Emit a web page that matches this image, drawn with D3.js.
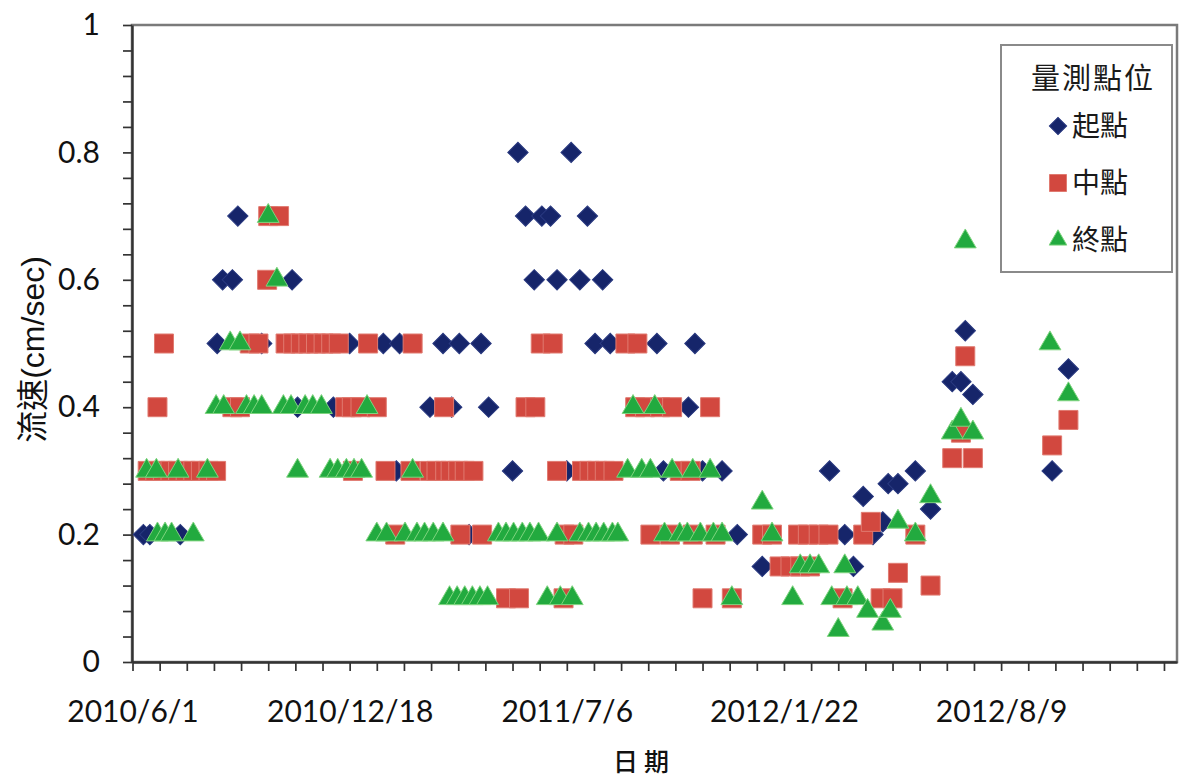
<!DOCTYPE html>
<html><head><meta charset="utf-8">
<script src="https://cdn.jsdelivr.net/npm/d3@7"></script>
<style>
html,body{margin:0;padding:0;background:#fff;}
svg{display:block;}
</style></head><body>
<svg id="chart" width="1183" height="779"></svg>
<script>
// ---- data ----
const seriesNames = ["起點", "中點", "終點"];
const legendTitle = "量測點位";
const xTitle = "日期";
const yTitle = "流速(cm/sec)";
const xLabelDates = ["2010-06-01", "2010-12-18", "2011-07-06", "2012-01-22", "2012-08-09"];
const yTickLabels = ["0", "0.2", "0.4", "0.6", "0.8", "1"];

const startDates = ["2010-06-11","2010-06-17","2010-07-15","2010-08-18","2010-08-23","2010-09-01","2010-09-06","2010-09-28","2010-10-26","2010-10-31","2010-12-03","2010-12-18","2011-01-18","2011-01-30","2011-02-02","2011-03-02","2011-03-14","2011-03-22","2011-03-29","2011-04-07","2011-04-18","2011-04-25","2011-05-17","2011-05-22","2011-05-29","2011-06-06","2011-06-13","2011-06-21","2011-06-27","2011-07-06","2011-07-10","2011-07-18","2011-07-25","2011-08-01","2011-08-08","2011-08-15","2011-09-27","2011-10-03","2011-10-26","2011-11-01","2011-11-08","2011-11-26","2011-12-10","2012-01-02","2012-03-04","2012-03-18","2012-03-26","2012-04-04","2012-04-13","2012-04-22","2012-04-27","2012-05-06","2012-05-22","2012-06-05","2012-06-25","2012-07-03","2012-07-07","2012-07-14","2012-09-25","2012-10-10"];
const startValues = [0.2,0.2,0.2,0.5,0.6,0.6,0.7,0.5,0.6,0.4,0.4,0.5,0.5,0.3,0.5,0.4,0.5,0.4,0.5,0.2,0.5,0.4,0.3,0.8,0.7,0.6,0.7,0.7,0.6,0.3,0.8,0.6,0.7,0.5,0.6,0.5,0.5,0.3,0.4,0.5,0.3,0.3,0.2,0.15,0.3,0.2,0.15,0.26,0.2,0.22,0.28,0.28,0.3,0.24,0.44,0.44,0.52,0.42,0.3,0.46];

const midDates = ["2010-06-15","2010-06-22","2010-06-24","2010-06-29","2010-06-30","2010-07-06","2010-07-13","2010-07-20","2010-07-27","2010-08-03","2010-08-10","2010-08-17","2010-09-01","2010-09-08","2010-09-17","2010-09-25","2010-10-03","2010-10-04","2010-10-14","2010-10-20","2010-10-27","2010-11-03","2010-11-10","2010-11-17","2010-11-24","2010-12-01","2010-12-08","2010-12-14","2010-12-20","2010-12-21","2010-12-28","2011-01-04","2011-01-12","2011-01-20","2011-01-29","2011-02-12","2011-02-14","2011-03-02","2011-03-08","2011-03-15","2011-03-16","2011-03-21","2011-03-28","2011-03-30","2011-04-03","2011-04-11","2011-04-19","2011-05-11","2011-05-23","2011-05-29","2011-06-07","2011-06-12","2011-06-23","2011-06-27","2011-07-03","2011-07-04","2011-07-12","2011-07-20","2011-07-27","2011-08-03","2011-08-10","2011-08-18","2011-08-29","2011-09-07","2011-09-09","2011-09-16","2011-09-21","2011-09-30","2011-10-09","2011-10-11","2011-10-18","2011-10-28","2011-10-30","2011-11-08","2011-11-15","2011-11-20","2011-12-05","2012-01-02","2012-01-11","2012-01-18","2012-01-28","2012-02-04","2012-02-06","2012-02-13","2012-02-15","2012-02-23","2012-03-03","2012-03-16","2012-04-04","2012-04-11","2012-04-20","2012-05-01","2012-05-06","2012-05-22","2012-06-05","2012-06-25","2012-07-03","2012-07-07","2012-07-14","2012-09-25","2012-10-10"];
const midValues = [0.3,0.3,0.4,0.3,0.5,0.3,0.3,0.3,0.3,0.3,0.3,0.3,0.4,0.4,0.5,0.5,0.6,0.7,0.7,0.5,0.5,0.5,0.5,0.5,0.5,0.5,0.5,0.4,0.4,0.3,0.4,0.5,0.4,0.3,0.2,0.3,0.5,0.3,0.3,0.4,0.3,0.3,0.3,0.2,0.3,0.3,0.2,0.1,0.1,0.4,0.4,0.5,0.5,0.3,0.1,0.2,0.2,0.3,0.3,0.3,0.3,0.3,0.5,0.4,0.5,0.4,0.2,0.4,0.2,0.4,0.3,0.3,0.2,0.1,0.4,0.2,0.1,0.2,0.2,0.15,0.15,0.2,0.15,0.2,0.15,0.2,0.2,0.1,0.2,0.22,0.1,0.1,0.14,0.2,0.12,0.32,0.36,0.48,0.32,0.34,0.38];

const endDates = ["2010-06-14","2010-06-23","2010-06-24","2010-07-01","2010-07-07","2010-07-13","2010-07-27","2010-08-09","2010-08-17","2010-08-24","2010-08-30","2010-09-08","2010-09-14","2010-09-21","2010-09-28","2010-10-04","2010-10-12","2010-10-18","2010-10-25","2010-10-31","2010-11-07","2010-11-14","2010-11-22","2010-11-30","2010-12-07","2010-12-15","2010-12-22","2010-12-29","2011-01-03","2011-01-12","2011-01-21","2011-02-07","2011-02-14","2011-02-18","2011-02-25","2011-03-05","2011-03-14","2011-03-20","2011-03-27","2011-04-03","2011-04-10","2011-04-17","2011-04-24","2011-05-04","2011-05-11","2011-05-18","2011-05-26","2011-06-02","2011-06-10","2011-06-18","2011-06-27","2011-06-30","2011-07-11","2011-07-18","2011-07-26","2011-08-02","2011-08-09","2011-08-17","2011-08-22","2011-08-31","2011-09-05","2011-09-13","2011-09-21","2011-09-25","2011-10-04","2011-10-11","2011-10-18","2011-10-25","2011-10-30","2011-11-06","2011-11-15","2011-11-18","2011-11-26","2011-12-05","2012-01-02","2012-01-11","2012-01-30","2012-02-06","2012-02-15","2012-02-23","2012-03-06","2012-03-12","2012-03-18","2012-03-20","2012-03-30","2012-04-08","2012-04-22","2012-04-29","2012-05-06","2012-05-22","2012-06-05","2012-06-25","2012-07-03","2012-07-07","2012-07-14","2012-09-23","2012-10-10"];
const endValues = [0.3,0.3,0.2,0.2,0.2,0.3,0.2,0.3,0.4,0.4,0.5,0.5,0.4,0.4,0.4,0.7,0.6,0.4,0.4,0.3,0.4,0.4,0.4,0.3,0.3,0.3,0.3,0.3,0.4,0.2,0.2,0.2,0.3,0.2,0.2,0.2,0.2,0.1,0.1,0.1,0.1,0.1,0.1,0.2,0.2,0.2,0.2,0.2,0.2,0.1,0.2,0.1,0.1,0.2,0.2,0.2,0.2,0.2,0.2,0.3,0.4,0.3,0.3,0.4,0.2,0.3,0.2,0.2,0.3,0.2,0.3,0.2,0.2,0.1,0.25,0.2,0.1,0.15,0.15,0.15,0.1,0.05,0.15,0.1,0.1,0.08,0.06,0.08,0.22,0.2,0.26,0.36,0.38,0.66,0.36,0.5,0.42];

// ---- layout ----
const W = 1183, H = 779;
const M = {left: 132, right: 1177, top: 25, bottom: 662};
const parse = d3.timeParse("%Y-%m-%d");
const xStart = parse("2010-06-01");
const xEnd = parse("2013-01-18");

const svg = d3.select("#chart");
svg.append("rect").attr("width", W).attr("height", H).attr("fill", "#fff");

const x = d3.scaleTime().domain([xStart, xEnd]).range([M.left + 0.5, M.right]);
const y = d3.scaleLinear().domain([0, 1]).range([M.bottom, M.top]);

// plot frame
svg.append("rect")
  .attr("x", M.left).attr("y", M.top)
  .attr("width", M.right - M.left).attr("height", M.bottom - M.top)
  .attr("fill", "none").attr("stroke", "#7a7a7a").attr("stroke-width", 2.5);

const tickFont = "Lato, 'Open Sans', sans-serif";

// x axis
const minorDays = d3.range(0, 951, 25);
const labelSet = new Set(xLabelDates.map(s => +parse(s)));
const xTicks = minorDays.map(d => d3.timeDay.offset(xStart, d));
const fmtDate = d => `${d.getFullYear()}/${d.getMonth() + 1}/${d.getDate()}`;
const xAxis = d3.axisBottom(x).tickValues(xTicks)
  .tickSizeInner(9).tickSizeOuter(0).tickPadding(30)
  .tickFormat(d => labelSet.has(+d) ? fmtDate(d) : "");
const gx = svg.append("g").attr("transform", `translate(0,${M.bottom})`).call(xAxis);
gx.select(".domain").attr("stroke", "#333").attr("stroke-width", 2.4);
gx.selectAll(".tick line").attr("stroke", "#333").attr("stroke-width", 1.7);
gx.selectAll(".tick text").attr("font-family", tickFont).attr("font-size", 30).attr("fill", "#111");

// y axis
const yTicks = d3.range(0, 26).map(i => i * 0.04);
const yAxis = d3.axisLeft(y).tickValues(yTicks)
  .tickSizeInner(9).tickSizeOuter(0).tickPadding(23)
  .tickFormat(v => {
    const k = Math.round(v / 0.2);
    return Math.abs(v - k * 0.2) < 1e-6 ? yTickLabels[k] : "";
  });
const gy = svg.append("g").attr("transform", `translate(${M.left},0)`).call(yAxis);
gy.select(".domain").attr("stroke", "#333").attr("stroke-width", 2.4);
gy.selectAll(".tick line").attr("stroke", "#333").attr("stroke-width", 1.7);
gy.selectAll(".tick text").attr("font-family", tickFont).attr("font-size", 30).attr("fill", "#111");

// titles
svg.append("text")
  .attr("transform", `translate(44,${(M.top + M.bottom) / 2 + 6}) rotate(-90)`)
  .attr("text-anchor", "middle")
  .attr("font-family", "'Liberation Sans', 'Noto Sans CJK TC', sans-serif")
  .attr("font-size", 32).attr("fill", "#111")
  .text(yTitle);
svg.append("text")
  .attr("x", 644).attr("y", 771)
  .attr("text-anchor", "middle")
  .attr("font-family", "'Noto Sans CJK TC', sans-serif").attr("font-weight", 500)
  .attr("font-size", 25).attr("letter-spacing", 6).attr("fill", "#111")
  .text(xTitle);

// markers
const styles = [
  {type: "diamond", fill: "#16256a", stroke: "#2a3a80"},
  {type: "square", fill: "#d2483f", stroke: "#e07a70"},
  {type: "triangle", fill: "#22aa3f", stroke: "#7fd47f"}
];
function markerPath(type, s) {
  if (type === "diamond") return d3.symbol(d3.symbolSquare, (s * 0.72) * (s * 0.72))();
  if (type === "square") return d3.symbol(d3.symbolSquare, s * s)();
  return d3.symbol(d3.symbolTriangle, Math.sqrt(3) / 4 * s * s * 1.08)();
}
function rot(type) { return type === "diamond" ? " rotate(45)" : ""; }

const series = [
  {dates: startDates, values: startValues},
  {dates: midDates, values: midValues},
  {dates: endDates, values: endValues}
];
series.forEach((sr, i) => {
  const st = styles[i];
  const data = sr.dates.map((d, j) => ({date: parse(d), value: sr.values[j]}));
  const size = st.type === "triangle" ? 21 : (st.type === "square" ? 19 : 20);
  const p = markerPath(st.type, size);
  svg.append("g").selectAll("path").data(data).join("path")
    .attr("d", p)
    .attr("transform", d => `translate(${x(d.date)},${y(d.value)})${rot(st.type)}`)
    .attr("fill", st.fill).attr("stroke", st.stroke).attr("stroke-width", 1);
});

// legend
const lg = svg.append("g");
lg.append("rect").attr("x", 1001).attr("y", 45).attr("width", 171).attr("height", 227)
  .attr("fill", "#fff").attr("stroke", "#8a8a8a").attr("stroke-width", 2);
lg.append("text").attr("x", 1093).attr("y", 89).attr("text-anchor", "middle")
  .attr("font-family", "'Noto Sans CJK TC', sans-serif").attr("font-size", 29)
  .attr("letter-spacing", 2).attr("fill", "#1a1a1a").text(legendTitle);
seriesNames.forEach((name, i) => {
  const cy = 126 + i * 57;
  const st = styles[i];
  lg.append("path").attr("d", markerPath(st.type, 17))
    .attr("transform", `translate(1058,${cy})${rot(st.type)}`)
    .attr("fill", st.fill).attr("stroke", st.stroke).attr("stroke-width", 1);
  lg.append("text").attr("x", 1072).attr("y", cy + 10)
    .attr("font-family", "'Noto Sans CJK TC', sans-serif").attr("font-size", 28)
    .attr("fill", "#1a1a1a").text(name);
});
</script>
</body></html>
